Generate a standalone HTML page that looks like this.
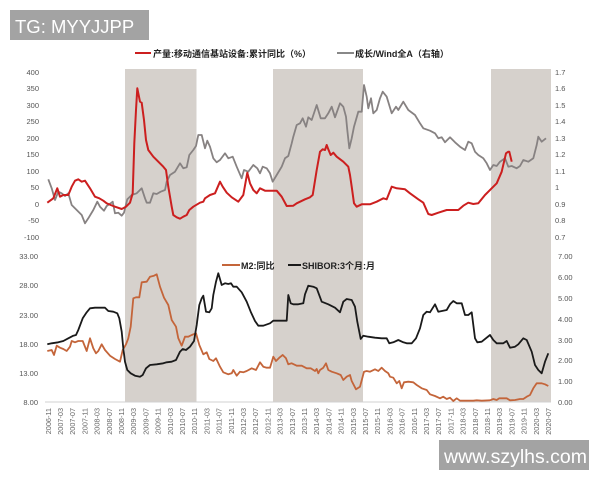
<!DOCTYPE html>
<html><head><meta charset="utf-8"><style>
html,body{margin:0;padding:0;background:#fff;}
svg{display:block;}
</style></head><body>
<svg width="600" height="480" viewBox="0 0 600 480" xmlns="http://www.w3.org/2000/svg" font-family="Liberation Sans, Noto Sans CJK SC, sans-serif">
<rect width="600" height="480" fill="#fff"/>
<!-- shading bands -->
<rect x="125" y="69" width="71.5" height="333" fill="#d6d1cc"/>
<rect x="273" y="69" width="90" height="333" fill="#d6d1cc"/>
<rect x="491" y="69" width="60" height="333" fill="#d6d1cc"/>
<!-- bottom axis line -->
<line x1="45" y1="402" x2="551" y2="402" stroke="#d0d0d0" stroke-width="1"/>

<!-- top legend -->
<line x1="135" y1="53" x2="151" y2="53" stroke="#cc1f1f" stroke-width="2"/>
<text x="153" y="57" font-size="9" font-weight="bold" fill="#222">产量:移动通信基站设备:累计同比（%）</text>
<line x1="337" y1="53" x2="354" y2="53" stroke="#888" stroke-width="2"/>
<text x="355" y="57" font-size="9" font-weight="bold" fill="#222">成长/Wind全A（右轴）</text>

<!-- top left axis labels -->
<g font-size="7.5" fill="#555" text-anchor="end">
<text x="39" y="75">400</text>
<text x="39" y="91">350</text>
<text x="39" y="108">300</text>
<text x="39" y="124">250</text>
<text x="39" y="141">200</text>
<text x="39" y="157">150</text>
<text x="39" y="174">100</text>
<text x="39" y="190">50</text>
<text x="39" y="207">0</text>
<text x="39" y="223">-50</text>
<text x="39" y="240">-100</text>
</g>
<!-- top right axis labels -->
<g font-size="7.5" fill="#555">
<text x="555" y="75">1.7</text>
<text x="555" y="91">1.6</text>
<text x="555" y="108">1.5</text>
<text x="555" y="124">1.4</text>
<text x="555" y="141">1.3</text>
<text x="555" y="157">1.2</text>
<text x="555" y="174">1.1</text>
<text x="555" y="190">1</text>
<text x="555" y="207">0.9</text>
<text x="555" y="223">0.8</text>
<text x="555" y="240">0.7</text>
</g>

<!-- gray series -->
<polyline fill="none" stroke="#878282" stroke-width="1.8" stroke-linejoin="round" points="48.3,179.3 51.7,188.3 55,200 58.3,191.7 61.7,193.3 65,196 68.3,193.3 71.7,205 76.7,210 81.7,215 85,223.3 88.3,218.3 93.3,210 97.3,201.7 100,206.7 104,210.7 106.7,206 110.7,203.3 112.7,201.7 115,213.3 118.3,212.7 121.7,215.7 124,212.7 127.3,199.3 131.7,195 136.7,193.3 140,190 141.7,188.3 145,198.3 146.7,202.7 150,202.7 153.3,193.3 156.7,194 160.7,191.7 165,190 166.7,181.7 170,175 175,171.7 180,163.3 183.3,168.3 186.7,167.3 189.3,155 193.3,150 196,146 198.3,135 201.7,135 205,148.3 207.3,140.7 210,146.7 213.3,158.3 216.7,162.3 220,160 225,153.3 228.3,158.3 232.7,156.7 236.7,166.7 241.7,178.3 244,170 248.3,171.7 253.3,165 257.3,168.3 260,173.3 262.7,166.7 266.7,168.3 270,173.3 272.7,181.7 276.7,175 281.7,166.7 285,158.3 288.3,156 291.7,143.3 293.3,136.7 296.7,125 300,123.3 302.7,118.3 306,126.7 308.3,117.3 311.7,120 316.7,105 320.7,118.3 325,118.3 328.3,113.3 331.7,106.7 335,117.3 340,103.3 343.3,106.7 346,116.7 347.3,130 349.3,148.3 351.7,138.3 354,126.7 358.3,111.7 361.7,111.7 364,85 366.7,96.7 368.3,108.3 371,98.3 373.3,113.3 376.7,110 380,98.3 382.7,91.7 386.7,96.7 391.7,113.3 396,106.7 398.3,110 403.3,101.7 408.3,110 415,115 420,123.3 423.3,128.3 430,130.7 435,133.3 438.3,138.3 441.7,137.3 445,142.3 450,137.3 455,142.3 460,146.7 465,150 468.3,141.7 471.7,143.3 475,151.7 478.3,155 483.3,158.3 486.7,163.3 490,170 493.3,165 496.7,166 500,161.7 505,158.3 508.3,166.7 511.7,166 516.7,168.3 520,166 523.3,160 528.3,161.7 533.3,158.3 536.7,145 538.3,136.7 541.7,141.7 546,138.3"/>

<!-- red series -->
<polyline fill="none" stroke="#cc1f1f" stroke-width="2" stroke-linejoin="round" points="47.3,202.7 53.3,198.3 57.3,188.3 60,196.7 63.3,195 68.3,195 71.7,186.7 75,180.7 78.3,179.3 81.7,181.7 85,180.7 90,188.3 95,196.7 99.3,198.3 103.3,200.7 106.7,203.3 110.7,205 115,206.7 121.7,209 126,206.7 130,202.7 132.7,193.3 134.3,143.3 136,110 137.3,88.3 140,101.7 141.7,102.7 144,120 146,140 148.3,150 153.3,156.7 158.3,161.7 163.3,166.7 166,170 168.3,186.7 171.7,206.7 173.3,215 176.7,217.3 180,218.7 183.3,216.7 186.7,215 189.3,210 193.3,206.7 200,202.7 203.3,201.7 205,198.3 210,195 215,193.3 220,181.7 222.7,186.7 226.7,192.7 231.7,197.3 238.3,201.7 243.3,195 247.3,172.7 250,183.3 253.3,190 256.7,193.3 260,188.3 265,190.7 273.3,190.7 276.7,190.7 281.7,196.7 286.7,206 293.3,205.7 296.7,203.3 305,199.3 310,197.3 312.7,195 316.7,170 320,151.7 322.7,149.3 325,150 326.7,145 328.3,149.3 330.7,155 333.3,152.7 336.7,156.7 343.3,161.7 348.3,166.7 350,175 351.7,186.7 354,203.3 356.7,206.7 361.7,204.3 370,204.3 376.7,201.7 383.3,198.3 386.7,199.3 391.7,186.7 396.7,188.3 405,189.3 410,193.3 418.3,199.3 423.3,202.7 428.3,214 431.7,215 438.3,212.7 446.7,210 458.3,210 463.3,205.7 468.3,202.7 473.3,204 478.3,203.3 485,195 491.7,188.3 496.7,183.3 501.7,171.7 506,153.3 508.3,151.7 509.3,151.7 511.7,161.7"/>

<!-- bottom legend -->
<line x1="222" y1="265" x2="240" y2="265" stroke="#c4653a" stroke-width="2"/>
<text x="241" y="269" font-size="9" font-weight="bold" fill="#222">M2:同比</text>
<line x1="288" y1="265" x2="301" y2="265" stroke="#1a1a1a" stroke-width="2"/>
<text x="302" y="269" font-size="9" font-weight="bold" fill="#222">SHIBOR:3个月:月</text>

<!-- bottom left labels -->
<g font-size="7.5" fill="#555" text-anchor="end">
<text x="38" y="259">33.00</text>
<text x="38" y="288">28.00</text>
<text x="38" y="318">23.00</text>
<text x="38" y="347">18.00</text>
<text x="38" y="376">13.00</text>
<text x="38" y="405">8.00</text>
</g>
<!-- bottom right labels -->
<g font-size="7.5" fill="#555">
<text x="558" y="259">7.00</text>
<text x="558" y="280">6.00</text>
<text x="558" y="301">5.00</text>
<text x="558" y="322">4.00</text>
<text x="558" y="343">3.00</text>
<text x="558" y="363">2.00</text>
<text x="558" y="384">1.00</text>
<text x="558" y="405">0.00</text>
</g>

<!-- orange M2 -->
<polyline fill="none" stroke="#c4653a" stroke-width="1.8" stroke-linejoin="round" points="47.3,351 51.7,350 54,355 56.7,345.7 60,347.7 63.3,349 66.7,351 70,346.7 71.7,341 75,342.3 78.3,341 82.7,341 86.7,351 90,338.3 93.3,348.3 96,353.3 98.3,351 101.7,344.3 105,350 110,355.7 115,359 120,361.7 122.7,350 126,344.3 128.3,338.3 130.7,326.7 133.3,298.3 136,297.3 139.3,297.3 141.7,282.3 146.7,281.7 150,276.7 154,275.7 156.7,274.3 160,286.7 164,297.7 168.3,305 171.7,320 176,326.7 178.3,338.3 181.7,345.7 185,336.7 188.3,336.7 191.7,335 196,333.3 199.3,345 203.3,354.3 206.7,352.3 209.3,359 213.3,361 216,358.3 220,366.7 223.3,372.3 228.3,374.3 231.7,373.3 233.3,370 236.7,375.7 240,371.7 243.3,372.3 246.7,371 251.7,368.3 256,370 260,362.3 263.3,366.7 266.7,367.7 270,367.7 273.3,356.7 276,361 279.3,357.7 282.7,355 286,358.3 288.3,364.3 291.7,363.3 296.7,365.7 301.7,365.7 306.7,368.3 310.7,368.3 315,371 316.7,369 318.3,373.3 320,370 323.3,367.7 326,363.3 328.3,370 331.7,371.7 336.7,373.3 340.7,375 343.3,380 346.7,376.7 350,375 351.7,381 356,389.3 360,386.7 364,371.7 366.7,371 370,371.7 375,369.3 378.3,371 381.7,367.7 385,371 388.3,373.3 390,376.7 393.3,377.7 396.7,383.3 399.3,381 401.7,388.3 404,382.3 408.3,381.7 413.3,382.3 416.7,385 421.7,388.3 426.7,390 430,394.3 435,396 440,398.3 443.3,396.7 446.7,399 450,397.7 453.3,401 456.7,398.3 460,400.7 466.7,400.7 473.3,400.7 476.7,400.3 481.7,400.7 490,400.3 493.3,399 496.7,400 499.3,398.3 506.7,398.3 510,400.3 515,400 520,399 523.3,399 526.7,396.7 530,395 533.3,388.3 536.7,383.3 541.7,383.3 545,384.3 548.3,386"/>

<!-- black SHIBOR -->
<polyline fill="none" stroke="#1a1a1a" stroke-width="1.8" stroke-linejoin="round" points="47.3,344.3 51.7,343.3 58.3,342.3 63.3,341 68.3,338.3 73.3,335.7 76,335 78.3,330 82.7,318.3 86.7,312.3 90,308.3 95,307.7 105,307.7 108.3,311 113.3,311.7 117.3,313.3 119.3,318.3 121.7,331.7 123.3,348.3 125,361.7 127.3,370 130.7,373.3 135,375.7 140,376.7 142.7,375 146,368.3 150,365 156.7,364.3 163.3,363.3 166.7,362.3 171.7,361.7 176,360 180,351.7 182.7,349 186,350 190,346.7 194,341 196.7,325 199.3,305 201.7,298.3 203.3,295.7 206,311.7 209.3,312.3 211.7,308.3 213.3,295 216,281.7 218.3,273.3 221.7,285 225,283.3 228.3,284 231,283.3 233.3,286.7 236.7,286.7 241.7,292.3 246.7,301.7 250.7,311.7 255,321 258.3,325.7 263.3,325.7 270,323.3 273.3,320.7 286.7,320.7 288.3,295 290.7,303.3 293.3,304.3 298.3,304.3 303.3,303.3 305,294.3 308.3,285.7 313.3,286.7 316.7,288.3 321.7,301.7 328.3,304.3 335,307.7 340,312.3 343.3,301.7 346.7,299 351.7,300 355,306.7 357.3,321.7 360.7,339 363.3,335.7 368.3,336.7 375,337.7 381.7,338.3 386.7,338.3 389.3,343.3 393.3,342.3 398.3,340 403.3,342.3 406.7,343.3 411.7,343.3 416,338.3 420,328.3 423.3,315 426.7,311.7 430,312.3 435,304.3 438.3,311.7 446.7,310 450,304.3 453.3,301 456.7,303.3 461.7,303.3 465,315 468.3,315 471.7,312.3 475,338.3 477.3,342.3 481.7,341.7 490,335 493.3,340 496.7,343.3 503.3,343.3 506.7,341 510,347.7 515,346.7 518.3,344.3 523.3,338.3 526.7,340 531.7,351.7 535,365 538.3,370 541.7,373.3 545,361.7 548.3,353.3"/>

<!-- x axis labels -->
<g font-size="7.3" fill="#666" text-anchor="end">
<text transform="translate(50.8,408) rotate(-90)">2006-11</text>
<text transform="translate(63,408) rotate(-90)">2007-03</text>
<text transform="translate(75.2,408) rotate(-90)">2007-07</text>
<text transform="translate(87.4,408) rotate(-90)">2007-11</text>
<text transform="translate(99.6,408) rotate(-90)">2008-03</text>
<text transform="translate(111.8,408) rotate(-90)">2008-07</text>
<text transform="translate(124,408) rotate(-90)">2008-11</text>
<text transform="translate(136.2,408) rotate(-90)">2009-03</text>
<text transform="translate(148.4,408) rotate(-90)">2009-07</text>
<text transform="translate(160.6,408) rotate(-90)">2009-11</text>
<text transform="translate(172.8,408) rotate(-90)">2010-03</text>
<text transform="translate(185,408) rotate(-90)">2010-07</text>
<text transform="translate(197.2,408) rotate(-90)">2010-11</text>
<text transform="translate(209.4,408) rotate(-90)">2011-03</text>
<text transform="translate(221.6,408) rotate(-90)">2011-07</text>
<text transform="translate(233.8,408) rotate(-90)">2011-11</text>
<text transform="translate(246,408) rotate(-90)">2012-03</text>
<text transform="translate(258.2,408) rotate(-90)">2012-07</text>
<text transform="translate(270.4,408) rotate(-90)">2012-11</text>
<text transform="translate(282.6,408) rotate(-90)">2013-03</text>
<text transform="translate(294.8,408) rotate(-90)">2013-07</text>
<text transform="translate(307,408) rotate(-90)">2013-11</text>
<text transform="translate(319.2,408) rotate(-90)">2014-03</text>
<text transform="translate(331.4,408) rotate(-90)">2014-07</text>
<text transform="translate(343.6,408) rotate(-90)">2014-11</text>
<text transform="translate(355.8,408) rotate(-90)">2015-03</text>
<text transform="translate(368,408) rotate(-90)">2015-07</text>
<text transform="translate(380.2,408) rotate(-90)">2015-11</text>
<text transform="translate(392.4,408) rotate(-90)">2016-03</text>
<text transform="translate(404.6,408) rotate(-90)">2016-07</text>
<text transform="translate(416.8,408) rotate(-90)">2016-11</text>
<text transform="translate(429,408) rotate(-90)">2017-03</text>
<text transform="translate(441.2,408) rotate(-90)">2017-07</text>
<text transform="translate(453.4,408) rotate(-90)">2017-11</text>
<text transform="translate(465.6,408) rotate(-90)">2018-03</text>
<text transform="translate(477.8,408) rotate(-90)">2018-07</text>
<text transform="translate(490,408) rotate(-90)">2018-11</text>
<text transform="translate(502.2,408) rotate(-90)">2019-03</text>
<text transform="translate(514.4,408) rotate(-90)">2019-07</text>
<text transform="translate(526.6,408) rotate(-90)">2019-11</text>
<text transform="translate(538.8,408) rotate(-90)">2020-03</text>
<text transform="translate(551,408) rotate(-90)">2020-07</text>
</g>

<!-- watermarks -->
<rect x="10" y="10" width="139" height="30" fill="#a3a3a3"/>
<text x="15" y="33" font-size="18.5" fill="#fff">TG: MYYJJPP</text>
<rect x="439" y="440" width="150" height="30" fill="#a3a3a3"/>
<text x="444" y="463" font-size="19.5" fill="#fff">www.szylhs.com</text>
</svg>
</body></html>
